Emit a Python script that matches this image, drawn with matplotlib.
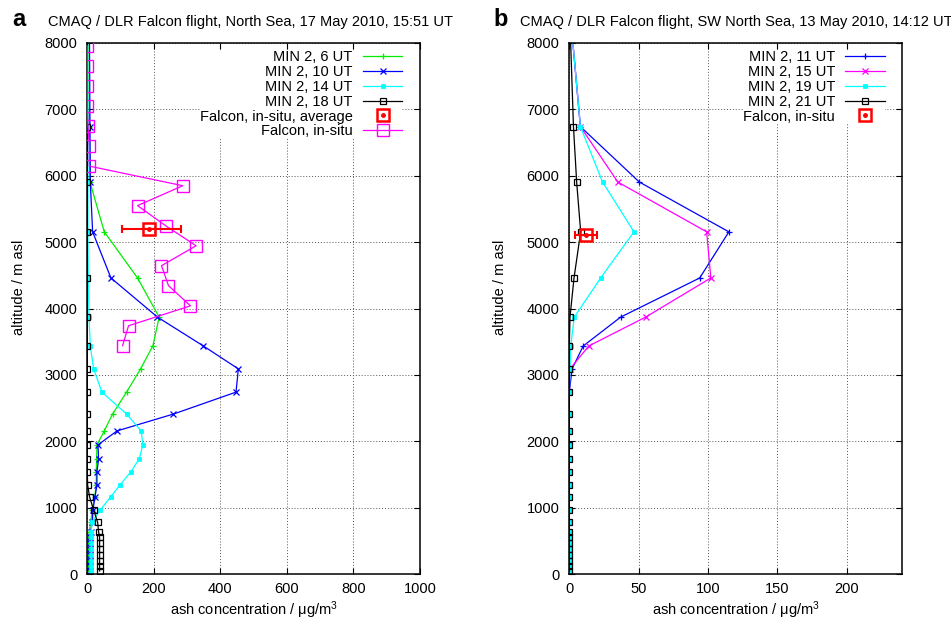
import numpy as np
import matplotlib
matplotlib.use("Agg")
import matplotlib.pyplot as plt

plt.rcParams["font.family"] = ["Liberation Sans", "DejaVu Sans"]
plt.rcParams["mathtext.default"] = "regular"

# CMAQ model levels (m asl), bottom to top
levels = [45, 120, 200, 285, 370, 460, 550, 635, 780, 965, 1160, 1340, 1540,
          1735, 1945, 2155, 2410, 2740, 3090, 3435, 3870, 4460, 5155, 5905,
          6740, 8600]

# panel a: 17 May 2010
a_06 = [4, 4, 4, 4, 4, 5, 5, 6, 10, 15, 22, 27, 27, 28, 29, 51, 76, 118, 160,
        197, 216, 151, 51, 8, 6, 5]
a_10 = [8, 8, 8, 8, 8, 9, 9, 10, 15, 17, 23, 29, 29, 34, 32, 89, 259, 447, 454,
        349, 211, 71, 16, 9, 8, 6]
a_14 = [12, 12, 12, 12, 12, 12, 12, 12, 14, 39, 70, 98, 131, 156, 167, 162,
        118, 44, 19, 9, 5, 3, 2, 2, 2, 1]
a_18 = [37, 37, 37, 37, 37, 37, 37, 34, 31, 19, 7, 1, 0, 0, 0, 0, 0, 0, 0, 0,
        0, 0, 0, 0, 0, 0]

insitu_alt = [3440, 3740, 4040, 4345, 4645, 4945, 5245, 5550, 5850, 6145,
              6450, 6750, 7050, 7350, 7655, 7955]
insitu_a = [106, 124, 310, 244, 223, 327, 236, 151, 287, 6, 6, 2, 0, 0, 0, 0]

avg_a_x, avg_a_alt = 184, 5195
avg_a_err = [[81], [98]]

# panel b: 13 May 2010
b_11 = [0] * 18 + [2, 10, 37, 94, 115, 50.5, 8, 0]
b_15 = [0] * 18 + [0.5, 14, 55, 102, 99, 35, 8, 0]
b_19 = [0] * 18 + [0.5, 1, 3.6, 22.6, 46.6, 24, 8, 0]
b_21 = [0] * 20 + [0.5, 3.4, 8.2, 5.3, 3, 0]

avg_b_x, avg_b_alt = 12, 5100
avg_b_err = 8

W, H = 951, 621
fig = plt.figure(figsize=(W / 100, H / 100), dpi=100)

def make_axes(x0, x1):
    ax = fig.add_axes([x0 / W, (H - 574) / H, (x1 - x0) / W, 531 / H])
    ax.set_ylim(0, 8000)
    ax.set_yticks(range(0, 8001, 1000))
    ax.tick_params(direction="in", top=True, right=True, length=4.5,
                   width=0.8, labelsize=10.5)
    ax.tick_params(axis="x", pad=6)
    ax.tick_params(axis="y", pad=7)
    for s in ax.spines.values():
        s.set_linewidth(1.1)
    ax.grid(True, color="#555555", linestyle=(0, (1, 2)), linewidth=0.7)
    ax.set_axisbelow(True)
    return ax

def red_avg(ax, x, y, err):
    ax.errorbar([x], [y], xerr=err, fmt="none", ecolor="red", elinewidth=1.5,
                capsize=3, capthick=1.5, zorder=6)
    sq, = ax.plot([x], [y], "s", mfc="none", mec="red", ms=9, mew=1.8, zorder=7)
    dot, = ax.plot([x], [y], ".", color="red", ms=5, zorder=8)
    return (sq, dot)

leg_kw = dict(loc="upper right", markerfirst=False, fontsize=10.5,
              labelspacing=0.06, handlelength=2.7, handletextpad=0.7,
              borderpad=0.0, borderaxespad=0.3, framealpha=1,
              facecolor="white", edgecolor="none", fancybox=False)

# ---- panel a
ax = make_axes(87.3, 420)
ax.set_xlim(0, 1000)
ax.set_xticks(range(0, 1001, 200))
lw = 0.9
h1, = ax.plot(a_06, levels, "-", color="#00ee00", lw=lw, marker="+", ms=4.5,
              mew=0.9)
h2, = ax.plot(a_10, levels, "-", color="#0000ff", lw=lw, marker="x", ms=4,
              mew=0.9)
h3, = ax.plot(a_14, levels, "-", color="#00ffff", lw=lw, marker="s", ms=3.5,
              mew=0.6)
h4, = ax.plot(a_18, levels, "-", color="black", lw=lw, marker="s", ms=4,
              mfc="none", mew=0.9)
h6, = ax.plot(insitu_a, insitu_alt, "-", color="#ff00ff", lw=lw, marker="s",
              ms=8, mfc="none", mew=1.0, zorder=5)
h5 = red_avg(ax, avg_a_x, avg_a_alt, avg_a_err)
ax.legend([h1, h2, h3, h4, h5, h6],
          ["MIN 2, 6 UT", "MIN 2, 10 UT", "MIN 2, 14 UT", "MIN 2, 18 UT",
           "Falcon, in-situ, average", "Falcon, in-situ"],
          bbox_to_anchor=(0.96, 0.995), **leg_kw)

# ---- panel b
bx = make_axes(569.3, 902.3)
bx.set_xlim(0, 240)
bx.set_xticks(range(0, 201, 50))
g1, = bx.plot(b_11, levels, "-", color="#0000ff", lw=lw, marker="+", ms=4.5,
              mew=0.9)
g2, = bx.plot(b_15, levels, "-", color="#ff00ff", lw=lw, marker="x", ms=4,
              mew=0.9)
g3, = bx.plot(b_19, levels, "-", color="#00ffff", lw=lw, marker="s", ms=3.5,
              mew=0.6)
g4, = bx.plot(b_21, levels, "-", color="black", lw=lw, marker="s", ms=4,
              mfc="none", mew=0.9)
g5 = red_avg(bx, avg_b_x, avg_b_alt, [[avg_b_err], [avg_b_err]])
bx.legend([g1, g2, g3, g4, g5],
          ["MIN 2, 11 UT", "MIN 2, 15 UT", "MIN 2, 19 UT", "MIN 2, 21 UT",
           "Falcon, in-situ"],
          bbox_to_anchor=(0.96, 0.995), **leg_kw)

# titles, panel letters and axis labels
ty = 1 - 26 / H
fig.text(12 / W, ty, "a", fontsize=17, fontweight="bold", va="baseline")
fig.text(48 / W, ty, "CMAQ / DLR Falcon flight, North Sea, 17 May 2010, 15:51 UT",
         fontsize=10.5, va="baseline")
fig.text(493 / W, ty, "b", fontsize=17, fontweight="bold", va="baseline")
fig.text(520 / W, ty, "CMAQ / DLR Falcon flight, SW North Sea, 13 May 2010, 14:12 UT",
         fontsize=10.5, va="baseline")

for xc, yl in [(19, 287), (500, 287)]:
    fig.text(xc / W, 1 - yl / H, "altitude / m asl", fontsize=10.5,
             rotation=90, ha="center", va="center")
for xc in [(87.3 + 420) / 2, (569.3 + 902.3) / 2]:
    fig.text(xc / W, 1 - 615 / H, "ash concentration / \u03bcg/m$^{3}$",
             fontsize=10.5, ha="center", va="baseline")

fig.savefig("out.png", dpi=100)
